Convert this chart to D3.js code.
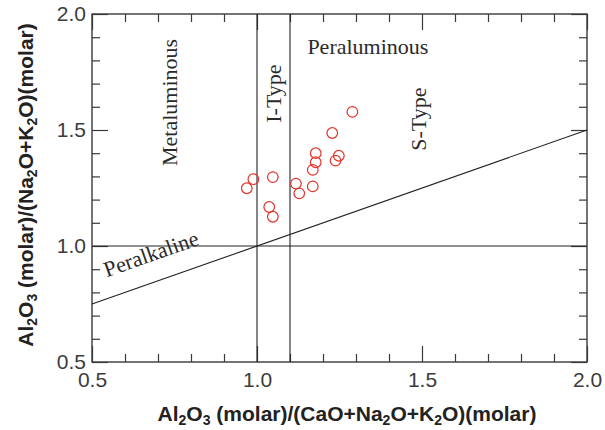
<!DOCTYPE html>
<html>
<head>
<meta charset="utf-8">
<script src="https://cdn.jsdelivr.net/npm/d3@7"></script>
<style>
  body { margin: 0; background: #fff; }
  svg { display: block; }
</style>
</head>
<body>
<script>
// sample points: A/CNK (x) vs A/NK (y)
const acnk = [0.969, 0.989, 1.048, 1.037, 1.048, 1.118, 1.128, 1.169, 1.169, 1.178, 1.178, 1.238, 1.248, 1.228, 1.289];
const ank  = [1.249, 1.288, 1.297, 1.168, 1.126, 1.269, 1.227, 1.257, 1.328, 1.361, 1.400, 1.368, 1.389, 1.487, 1.578];

const majorTicks = [0.5, 1.0, 1.5, 2.0];
const minorTicks = [0.6, 0.7, 0.8, 0.9, 1.1, 1.2, 1.3, 1.4, 1.6, 1.7, 1.8, 1.9];

// field boundaries
const vLines = [1.0, 1.1];
const hLines = [1.0];
const diagonal = [[0.5, 0.75], [2.0, 1.5]];

// field names
const fieldNames = ["Peraluminous", "Metaluminous", "I-Type", "S-Type", "Peralkaline"];
const fieldX = [1.336, 0.758, 1.074, 1.512, 0.545];
const fieldY = [1.828, 1.619, 1.657, 1.547, 0.865];
const fieldRotated = [false, true, true, true, false];

const W = 605, H = 430;
const m = {left: 92, right: 18, top: 14, bottom: 68};

const svg = d3.select("body").append("svg")
    .attr("width", W)
    .attr("height", H);

const x = d3.scaleLinear().domain([0.5, 2.0]).range([m.left, W - m.right]);
const y = d3.scaleLinear().domain([0.5, 2.0]).range([H - m.bottom, m.top]);

const axisColor = "#3a3a3a";

// ticks on all four sides, inside the frame
function drawAxis(axisFn, transform, ticks, size, labels) {
    const g = svg.append("g")
        .attr("transform", transform)
        .call(axisFn.tickValues(ticks).tickSize(size).tickPadding(labels ? 7 : 0)
            .tickFormat(labels ? d3.format(".1f") : ""));
    g.select(".domain").remove();
    g.selectAll(".tick line").attr("stroke", axisColor).attr("stroke-width", 1.2);
    g.selectAll(".tick text")
        .attr("fill", "#3c3c3c")
        .style("font-family", "'Liberation Sans', Arial, sans-serif")
        .style("font-size", "21px");
    return g;
}

const bottomT = `translate(0,${y(0.5)})`, topT = `translate(0,${y(2.0)})`;
const leftT = `translate(${x(0.5)},0)`, rightT = `translate(${x(2.0)},0)`;

drawAxis(d3.axisBottom(x), bottomT, minorTicks, -8, false);
drawAxis(d3.axisBottom(x), bottomT, majorTicks, -16, true)
    .selectAll(".tick text").attr("y", 10).attr("dy", "0.71em");
drawAxis(d3.axisTop(x), topT, minorTicks, -8, false);
drawAxis(d3.axisTop(x), topT, majorTicks, -16, false);
drawAxis(d3.axisLeft(y), leftT, minorTicks, -8, false);
drawAxis(d3.axisLeft(y), leftT, majorTicks, -16, true)
    .selectAll(".tick text").attr("x", -6);
drawAxis(d3.axisRight(y), rightT, minorTicks, -8, false);
drawAxis(d3.axisRight(y), rightT, majorTicks, -16, false);

// frame
svg.append("rect")
    .attr("x", x(0.5)).attr("y", y(2.0))
    .attr("width", x(2.0) - x(0.5)).attr("height", y(0.5) - y(2.0))
    .attr("fill", "none").attr("stroke", axisColor).attr("stroke-width", 1.4);

// boundaries
svg.selectAll(".vline").data(vLines).enter().append("line")
    .attr("x1", d => x(d)).attr("x2", d => x(d))
    .attr("y1", y(0.5)).attr("y2", y(2.0))
    .attr("stroke", "#222").attr("stroke-width", 1.1);

svg.selectAll(".hline").data(hLines).enter().append("line")
    .attr("x1", x(0.5)).attr("x2", x(2.0))
    .attr("y1", d => y(d)).attr("y2", d => y(d))
    .attr("stroke", "#222").attr("stroke-width", 1.1);

svg.append("path")
    .attr("d", d3.line().x(d => x(d[0])).y(d => y(d[1]))(diagonal))
    .attr("fill", "none").attr("stroke", "#222").attr("stroke-width", 1.1);

// field labels
const slopeAngle = Math.atan2(y(diagonal[1][1]) - y(diagonal[0][1]), x(diagonal[1][0]) - x(diagonal[0][0])) * 180 / Math.PI;
fieldNames.forEach((name, i) => {
    const px = x(fieldX[i]), py = y(fieldY[i]);
    const t = svg.append("text")
        .attr("x", px).attr("y", py)
        .attr("fill", "#2a2a2a")
        .style("font-family", "'Liberation Serif', 'Times New Roman', serif")
        .style("font-size", "22px")
        .text(name);
    if (fieldRotated[i]) {
        t.attr("text-anchor", "middle").attr("transform", `rotate(-90,${px},${py})`);
    } else if (name === "Peralkaline") {
        t.attr("text-anchor", "start").attr("transform", `rotate(${slopeAngle},${px},${py})`);
    } else {
        t.attr("text-anchor", "middle");
    }
});

// samples
svg.selectAll(".pt").data(acnk).enter().append("circle")
    .attr("cx", d => x(d))
    .attr("cy", (d, i) => y(ank[i]))
    .attr("r", 5.3)
    .attr("fill", "none")
    .attr("stroke", "#e0342c")
    .attr("stroke-width", 1.2);

// axis titles with subscripts
function title(sel, parts) {
    parts.forEach(p => {
        if (p[1]) {
            sel.append("tspan").attr("baseline-shift", "-30%").style("font-size", "14px").text(p[0]);
        } else {
            sel.append("tspan").text(p[0]);
        }
    });
}

const xt = svg.append("text")
    .attr("x", 347).attr("y", 421)
    .attr("text-anchor", "middle")
    .attr("fill", "#222")
    .style("font-family", "'Liberation Sans', Arial, sans-serif")
    .style("font-size", "21px").style("font-weight", "bold");
title(xt, [["Al"], ["2", 1], ["O"], ["3", 1], [" (molar)/(CaO+Na"], ["2", 1], ["O+K"], ["2", 1], ["O)(molar)"]]);

const yt = svg.append("text")
    .attr("transform", "translate(33,185) rotate(-90)")
    .attr("text-anchor", "middle")
    .attr("fill", "#222")
    .style("font-family", "'Liberation Sans', Arial, sans-serif")
    .style("font-size", "21px").style("font-weight", "bold");
title(yt, [["Al"], ["2", 1], ["O"], ["3", 1], [" (molar)/(Na"], ["2", 1], ["O+K"], ["2", 1], ["O)(molar)"]]);
</script>
</body>
</html>
